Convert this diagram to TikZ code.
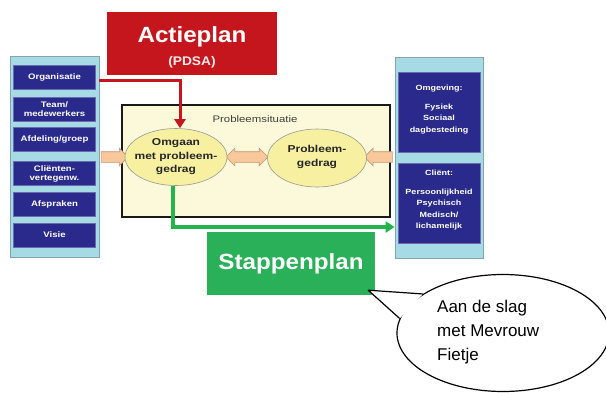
\documentclass[tikz,border=0pt]{standalone}
\usepackage{fontspec}
\setmainfont{Liberation Sans}
\newfontfamily\wide[FakeStretch=1.2]{Liberation Sans}
\newfontfamily\widestap[FakeStretch=1.1]{Liberation Sans}
\usetikzlibrary{shapes.geometric,shapes.arrows,calc,arrows.meta}
\definecolor{panelblue}{RGB}{166,219,230}
\definecolor{paneledge}{RGB}{130,165,175}
\definecolor{darkblue}{RGB}{42,42,140}
\definecolor{actred}{RGB}{196,22,28}
\definecolor{stapgreen}{RGB}{43,176,90}
\definecolor{arrgreen}{RGB}{35,180,75}
\definecolor{probfill}{RGB}{251,249,217}
\definecolor{ellfill}{RGB}{246,240,160}
\definecolor{peach}{RGB}{248,200,154}
\definecolor{peachedge}{RGB}{190,150,120}
\tikzset{
  panel/.style={draw=paneledge, fill=panelblue, line width=0.8pt},
  bluebox/.style={fill=darkblue, draw=darkblue!70!white, text=white, minimum width=82pt,
    minimum height=24pt, inner sep=1pt, align=center,
    font=\wide\fontsize{8}{9}\selectfont\bfseries},
  rbox/.style={fill=darkblue, draw=darkblue!70!white, minimum width=82pt,
    minimum height=80pt, inner sep=0pt},
  rtext/.style={text=white, align=center, inner sep=0pt, anchor=north,
    font=\wide\fontsize{7.5}{11.5}\selectfont\bfseries},
  ellbox/.style={ellipse, draw=gray!80, fill=ellfill, line width=0.6pt, inner sep=0pt},
  elltext/.style={align=center, inner sep=0pt, text=black!85,
    font=\wide\fontsize{10}{13.5}\selectfont\bfseries},
  peachR/.style={single arrow, draw=peachedge, fill=peach, line width=0.6pt,
    inner xsep=0pt, inner ysep=5pt, single arrow head extend=3.5pt, minimum width=0pt},
  peachD/.style={double arrow, draw=peachedge, fill=peach, line width=0.6pt,
    inner xsep=0pt, inner ysep=5pt, double arrow head extend=3.5pt, minimum width=0pt},
  redline/.style={draw=actred, line width=3pt, -{Triangle[length=9pt,width=11pt]}},
  greenline/.style={draw=arrgreen, line width=3.2pt, -{Triangle[length=9pt,width=11pt]}},
}
\begin{document}
\begin{tikzpicture}[x=1pt,y=-1pt]
\useasboundingbox (0,0) rectangle (606,392);
\clip (0,0) rectangle (606,392);
\fill[white] (0,0) rectangle (606,392);

% left panel
\node[panel, minimum width=89pt, minimum height=201pt, inner sep=0pt] (lp) at (54.5,156.5) {};
\node[bluebox] (b1) at (54.5,77.5) {Organisatie};
\node[bluebox] (b2) at (54.5,109.5) {Team/\\medewerkers};
\node[bluebox] (b3) at (54.5,139) {Afdeling/groep};
\node[bluebox] (b4) at (54.5,173.5) {Cliënten-\\vertegenw.};
\node[bluebox] (b5) at (54.5,204.5) {Afspraken};
\node[bluebox] (b6) at (54.5,235) {Visie};

% right panel
\node[panel, minimum width=88pt, minimum height=201pt, inner sep=0pt] (rp) at (439,157.5) {};
\node[rbox] (r1) at (439,112) {};
\node[rbox] (r2) at (439,203) {};
\node[rtext] (r1t) at (439,85) {Omgeving:\\[7pt]Fysiek\\Sociaal\\dagbesteding};
\node[rtext] (r2t) at (439,170) {Cliënt:\\[7pt]Persoonlijkheid\\Psychisch\\Medisch/\\lichamelijk};

% Actieplan
\node[fill=actred, minimum width=170pt, minimum height=63pt, inner sep=0pt] (act) at (192,43.5) {};
\node[text=white, inner sep=0pt, font=\widestap\fontsize{22}{24}\selectfont\bfseries] (actt) at (192,37) {Actieplan};
\node[text=white!92!red, inner sep=0pt, font=\widestap\fontsize{12.5}{14}\selectfont\bfseries] (pdsa) at (192,62) {(PDSA)};

% problem situation
\node[draw=black!90, fill=probfill, line width=2.5pt, minimum width=268pt, minimum height=112pt,
  inner sep=0pt] (prob) at (256,161) {};
\node[font=\wide\fontsize{9.5}{11}\selectfont, text=black!75, inner sep=1pt] (plabel) at (255,119) {Probleemsituatie};

% peach arrows
\node[peachR, minimum height=27pt] (pa1) at (112,157) {};
\node[peachD, minimum height=42pt] (pa2) at (247,157) {};
\node[peachR, shape border rotate=180, minimum height=28pt] (pa3) at (381,157) {};

% ellipses
\node[ellbox, minimum width=102pt, minimum height=57pt] (om) at (176,157) {};
\node[elltext] (omt) at (176,157) {Omgaan\\met probleem-\\gedrag};
\node[ellbox, minimum width=99pt, minimum height=58pt] (pg) at (317,158) {};
\node[elltext] (pgt) at (317,157) {Probleem-\\gedrag};

% red connector
\coordinate (ry) at (0,80);
\draw[redline] (lp.east |- ry) -| ($(om.north)+(4,0)$);

% green connector
\coordinate (gy) at (0,227);
\draw[greenline] ($(om.south)+(-3,0)$) |- (rp.west |- gy);

% Stappenplan
\node[fill=stapgreen, minimum width=168pt, minimum height=63pt, inner sep=0pt, text=white,
  font=\widestap\fontsize{22}{26}\selectfont\bfseries] (stap) at (291,263.5) {Stappenplan};

% speech bubble
\node[ellipse, draw=black, fill=white, line width=1.2pt, minimum width=212pt,
  minimum height=117pt, inner sep=0pt] (bub) at (503,333) {};
\coordinate (tip) at ($(stap.south east)+(-7,-5)$);
\fill[white] (bub.154) -- (tip) -- (bub.172) -- cycle;
\draw[black, line width=1.2pt, line join=round] (bub.154) -- (tip) -- (bub.172);
\node[anchor=west, align=left, inner sep=0pt, font=\fontsize{17}{24}\selectfont] (bt) at (437,332)
  {Aan de slag\\met Mevrouw\\Fietje};
\end{tikzpicture}
\end{document}
